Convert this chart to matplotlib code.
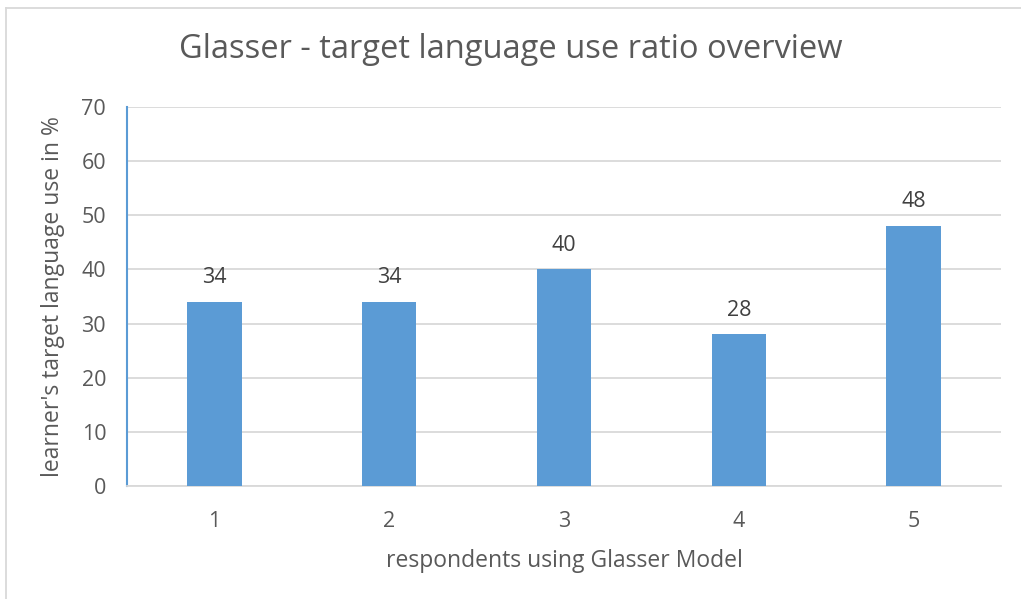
import matplotlib.pyplot as plt
from matplotlib.lines import Line2D

respondents = ['1', '2', '3', '4', '5']
use_ratio = [34, 34, 40, 28, 48]
yticks = [0, 10, 20, 30, 40, 50, 60, 70]

plt.rcParams['font.family'] = ['Open Sans', 'DejaVu Sans']
txt = '#595959'

fig = plt.figure(figsize=(10.21, 5.99), dpi=100)
ax = fig.add_axes([0.1244, 0.1886, 0.856, 0.6328])

x = range(len(respondents))
ax.bar(x, use_ratio, width=0.31, color='#5B9BD5', zorder=3)
for xi, v in zip(x, use_ratio):
    ax.annotate(str(v), (xi, v), xytext=(0, 17.5), textcoords='offset points',
                ha='center', va='center', fontsize=15.5, color='#404040')

ax.set_xlim(-0.5, len(respondents) - 0.5)
ax.set_ylim(0, 70)
ax.set_yticks(yticks)
ax.set_xticks(list(x))
ax.set_xticklabels(respondents)
ax.grid(axis='y', color='#D9D9D9', linewidth=1.3, zorder=0)
ax.tick_params(axis='both', length=0, labelsize=15.5, colors=txt)
ax.tick_params(axis='y', pad=15)
ax.tick_params(axis='x', pad=18)

for s in ['top', 'right']:
    ax.spines[s].set_visible(False)
ax.spines['left'].set_color('#5B9BD5')
ax.spines['left'].set_linewidth(1.5)
ax.spines['bottom'].set_color('#D9D9D9')
ax.spines['bottom'].set_linewidth(1.3)

ax.set_xlabel('respondents using Glasser Model', fontsize=16.5, color=txt, labelpad=12)
ax.set_ylabel("learner's target language use in %", fontsize=16.5, color=txt, labelpad=12)
fig.suptitle('Glasser - target language use ratio overview', fontsize=23.5, color=txt, y=0.945)

# chart area border (top and left visible)
fig.add_artist(Line2D([6 / 1021, 1], [1 - 8 / 599, 1 - 8 / 599], color='#D9D9D9', lw=1.3))
fig.add_artist(Line2D([6 / 1021, 6 / 1021], [0, 1 - 8 / 599], color='#D9D9D9', lw=1.3))

fig.savefig('out.png', dpi=100)
